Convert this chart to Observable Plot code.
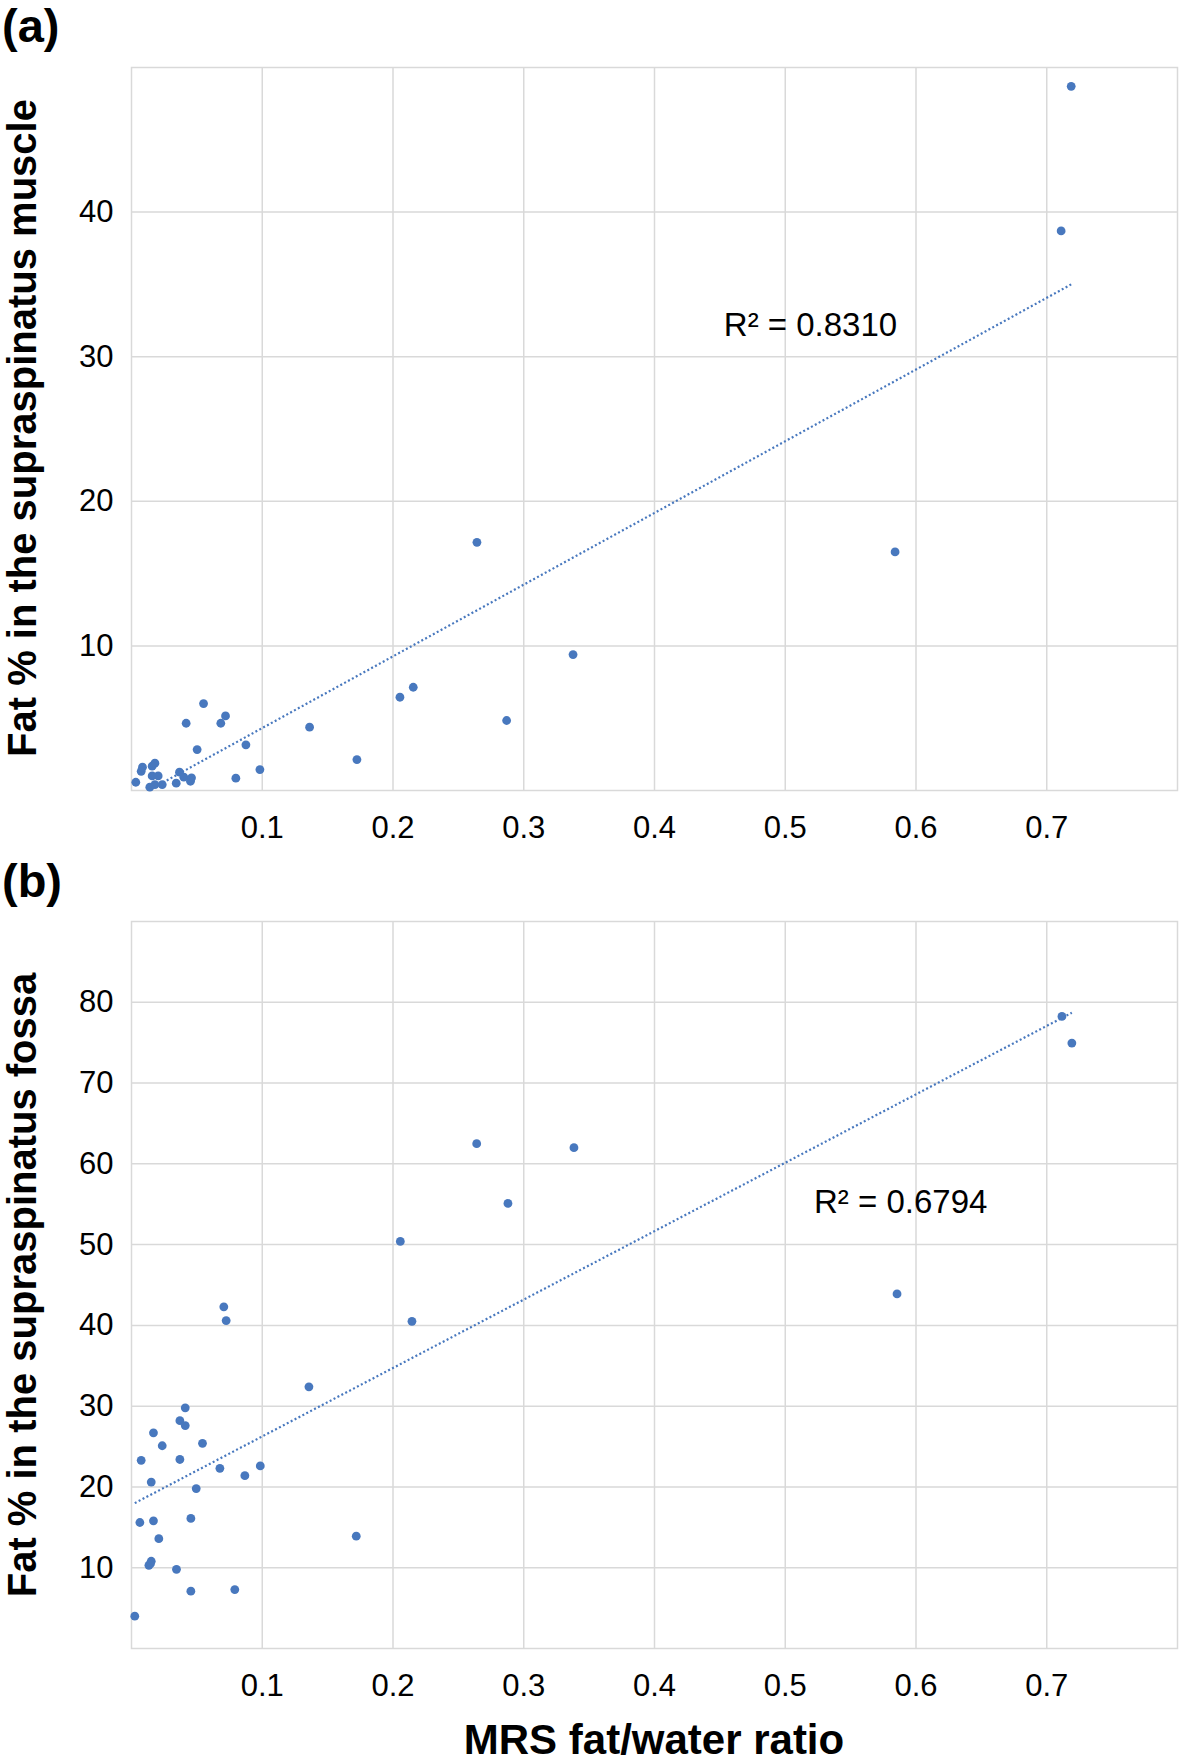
<!DOCTYPE html>
<html>
<head>
<meta charset="utf-8">
<script src="https://cdn.jsdelivr.net/npm/d3@7"></script>
<script src="https://cdn.jsdelivr.net/npm/@observablehq/plot@0.6"></script>
<style>
  html, body { margin: 0; padding: 0; background: #fff; }
  #page { position: relative; width: 1181px; height: 1762px; overflow: hidden; font-family: "Liberation Sans", Arial, sans-serif; color: #000; }
  .panel { position: absolute; left: 0; }
  .tag { position: absolute; left: 2px; font: bold 47px/1.1 "Liberation Sans", Arial, sans-serif; white-space: nowrap; }
  .ytitle { position: absolute; font: bold 40px/0.9 "Liberation Sans", Arial, sans-serif; white-space: nowrap; transform: translate(-50%, -50%) rotate(-90deg); }
  .xtitle { position: absolute; font: bold 42px/1 "Liberation Sans", Arial, sans-serif; white-space: nowrap; transform: translate(-50%, -50%); }
</style>
</head>
<body>
<div id="page">
  <div class="tag" style="top:0px;">(a)</div>
  <div class="tag" style="top:855px;">(b)</div>
  <div id="panelA" class="panel" style="top:0px;"></div>
  <div id="panelB" class="panel" style="top:860px;"></div>
  <div class="ytitle" style="left:22px; top:428px;">Fat % in the supraspinatus muscle</div>
  <div class="ytitle" style="left:22px; top:1285px;">Fat % in the supraspinatus fossa</div>
  <div class="xtitle" style="left:654px; top:1740px;">MRS fat/water ratio</div>
</div>
<script>
// ---- data ----
const xTicks = [0.1, 0.2, 0.3, 0.4, 0.5, 0.6, 0.7];
const yTicksA = [10, 20, 30, 40];
const yTicksB = [10, 20, 30, 40, 50, 60, 70, 80];

// Panel (a): MRS fat/water ratio vs fat % in the supraspinatus muscle
const ratioA = [0.7187, 0.711, 0.584, 0.2642, 0.3377, 0.2053, 0.2155, 0.2869, 0.1362, 0.1724,
  0.0982, 0.0798, 0.0875, 0.0551, 0.0418, 0.0683, 0.0719, 0.0502, 0.0367, 0.040,
  0.0459, 0.0451, 0.0342, 0.0235, 0.0179, 0.014, 0.0033, 0.0074, 0.0084, 0.0158,
  0.0179, 0.0158, 0.0204];
const fatA = [48.7, 38.7, 16.5, 17.16, 9.40, 6.45, 7.14, 4.84, 4.38, 2.14,
  1.45, 0.85, 3.16, 6.01, 4.65, 4.65, 5.16, 2.83, 1.27, 0.92,
  0.88, 0.64, 0.51, 0.41, 0.41, 0.23, 0.57, 1.33, 1.61, 1.68,
  1.89, 1.01, 1.01];
const trendAX = [0.024, 0.7187];
const trendAY = [0.55, 35.0];
const r2A = "R² = 0.8310";
const r2APos = [0.453, 31.4];

// Panel (b): MRS fat/water ratio vs fat % in the supraspinatus fossa
const ratioB = [0.7116, 0.7192, 0.5855, 0.264, 0.3384, 0.2879, 0.2056, 0.2145, 0.0706, 0.0724,
  0.1357, 0.0411, 0.037, 0.0411, 0.0168, 0.0235, 0.0543, 0.0074, 0.037, 0.0676,
  0.0985, 0.0867, 0.0151, 0.0495, 0.0064, 0.0168, 0.0454, 0.0209, 0.1719, 0.0151,
  0.0133, 0.0145, 0.0344, 0.0454, 0.079, 0.0025];
const fatB = [78.25, 74.95, 43.9, 62.5, 62.0, 55.1, 50.4, 40.5, 42.3, 40.6,
  32.4, 29.8, 28.2, 27.6, 26.7, 25.1, 25.4, 23.3, 23.4, 22.3,
  22.6, 21.4, 20.6, 19.8, 15.6, 15.8, 16.1, 13.6, 13.9, 10.8,
  10.3, 10.5, 9.8, 7.1, 7.3, 4.0];
const trendBX = [0.0025, 0.7192];
const trendBY = [18.0, 78.7];
const r2B = "R² = 0.6794";
const r2BPos = [0.522, 53.97];

// ---- styling ----
const blue = "#4878be";
const gridColor = "#d9d9d9";

function panel(xs, ys, tx, ty, yDomain, yTicks, label, labelPos, opts) {
  const pts = xs.map((x, i) => ({x, y: ys[i]}));
  const trend = tx.map((x, i) => ({x, y: ty[i]}));
  return Plot.plot({
    width: 1181,
    height: 850,
    marginLeft: 131,
    marginRight: 4,
    marginTop: opts.top,
    marginBottom: opts.bottom,
    style: {fontFamily: '"Liberation Sans", Arial, sans-serif', fontSize: "31px", color: "#000", background: "transparent"},
    x: {domain: [0, 0.8]},
    y: {domain: yDomain},
    marks: [
      Plot.gridX(xTicks, {stroke: gridColor, strokeOpacity: 1, strokeWidth: 1.5}),
      Plot.gridY(yTicks, {stroke: gridColor, strokeOpacity: 1, strokeWidth: 1.5}),
      Plot.frame({stroke: gridColor, strokeWidth: 1.5}),
      Plot.axisX(xTicks, {tickSize: 0, tickPadding: 25, label: null, tickFormat: d => String(d), fontSize: 31}),
      Plot.axisY(yTicks, {tickSize: 0, tickPadding: 18, label: null, fontSize: 31}),
      Plot.line(trend, {x: "x", y: "y", stroke: blue, strokeWidth: 2.2, strokeDasharray: "2,2.4", strokeLinecap: "butt"}),
      Plot.dot(pts, {x: "x", y: "y", r: 4.4, fill: blue}),
      Plot.text([{x: labelPos[0], y: labelPos[1], t: label}], {x: "x", y: "y", text: "t", textAnchor: "start", lineAnchor: "bottom", fontSize: 33, fill: "#000"})
    ]
  });
}

document.getElementById("panelA").append(
  panel(ratioA, fatA, trendAX, trendAY, [0, 50], yTicksA, r2A, r2APos, {top: 67, bottom: 60})
);
document.getElementById("panelB").append(
  panel(ratioB, fatB, trendBX, trendBY, [0, 90], yTicksB, r2B, r2BPos, {top: 61, bottom: 62})
);
</script>
</body>
</html>
